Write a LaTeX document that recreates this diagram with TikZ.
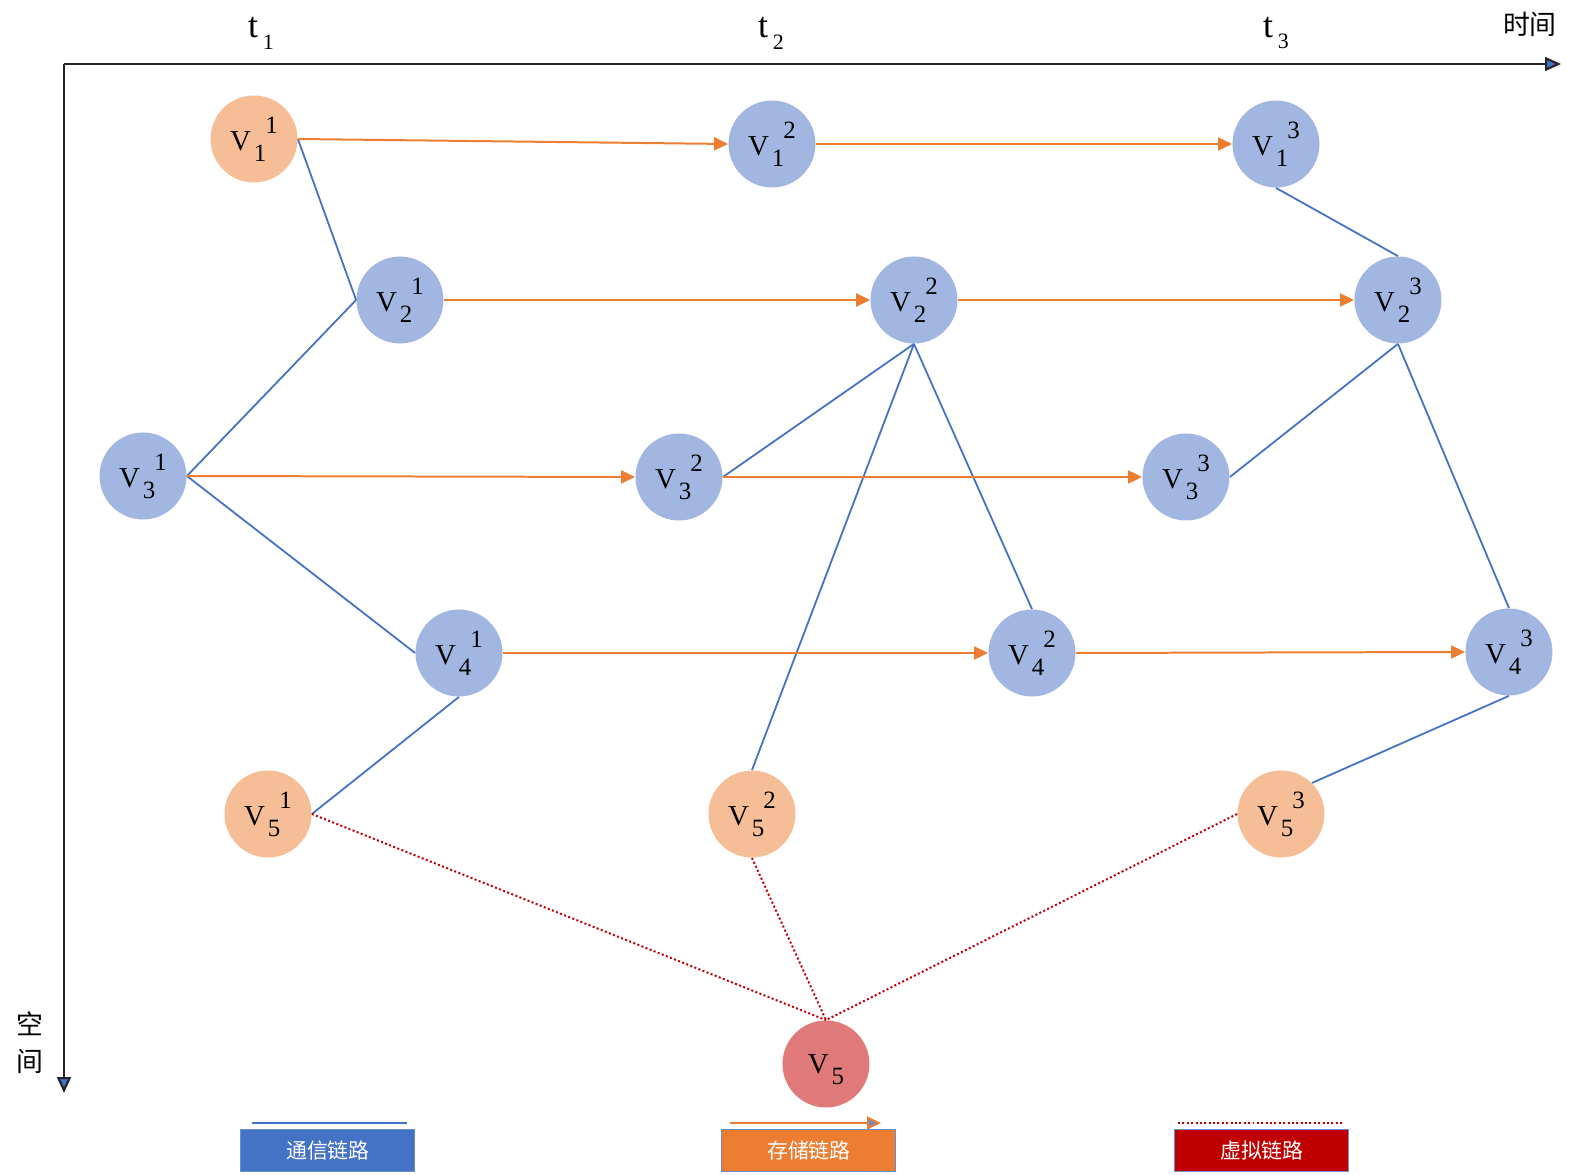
\documentclass[tikz,border=0pt]{standalone}
\usepackage{fontspec}
\setmainfont{Liberation Serif}
\newfontfamily\cjk{Noto Sans CJK SC}
\usetikzlibrary{arrows.meta}
\definecolor{nodeblue}{RGB}{161,183,225}
\definecolor{nodeorange}{RGB}{246,190,150}
\definecolor{nodered}{RGB}{224,122,122}
\definecolor{linkblue}{RGB}{68,114,196}
\definecolor{linkorange}{RGB}{237,125,49}
\definecolor{linkred}{RGB}{192,0,0}
\newcommand{\vlab}[2]{{\fontsize{14.5}{14.5}\selectfont V}\kern1.5pt\raisebox{-5.5pt}{\fontsize{12.5}{12.5}\selectfont #1}\kern-0.5pt\raisebox{8.5pt}{\fontsize{12.5}{12.5}\selectfont #2}}
\newcommand{\tlab}[1]{{\fontsize{18}{18}\selectfont t}\kern2.5pt\raisebox{-6pt}{\fontsize{11}{11}\selectfont #1}}
\tikzset{
  vnode/.style={circle, minimum size=43.5bp, inner sep=0pt, fill=nodeblue},
  onode/.style={vnode, fill=nodeorange},
  rnode/.style={vnode, fill=nodered},
  comm/.style={draw=linkblue, line width=0.9pt},
  store/.style={draw=linkorange, line width=1pt, -{Triangle[length=7pt,width=6.5pt,fill=linkorange]}},
  virt/.style={draw=linkred, line width=1pt, dash pattern=on 1pt off 1.2pt},
  axis/.style={draw=black!85, line width=1.1pt, -{Triangle[length=8pt,width=7pt,fill=linkblue]}},
  legbox/.style={minimum width=87bp, minimum height=21bp, inner sep=0pt, draw=linkblue!80, line width=0.5pt, text=white, font=\cjk\fontsize{10.5}{10.5}\selectfont},
  cjklab/.style={font=\cjk\fontsize{13.5}{18.75}\selectfont, inner sep=0pt, align=center},
}
\begin{document}
\begin{tikzpicture}[x=0.5bp,y=-0.5bp]
\useasboundingbox (0bp,0bp) rectangle (787.5bp,-587.5bp);
% axes
\coordinate (O) at (64,64);
\coordinate (Xend) at (1561,64);
\coordinate (Yend) at (64,1093);
\draw[axis] (O) -- (Xend);
\draw[axis] (O) -- (Yend);
\node[inner sep=0pt] (t1) at (261,33) {\tlab{1}};
\node[inner sep=0pt] (t2) at (771,33) {\tlab{2}};
\node[inner sep=0pt] (t3) at (1276,33) {\tlab{3}};
\node[cjklab] (time) at (1530,24) {时间};
\node[cjklab] (space) at (30,1043) {空\\间};
% nodes
\node[onode] (v11) at (254,139) {\vlab{1}{1}};
\node[vnode] (v12) at (772,144) {\vlab{1}{2}};
\node[vnode] (v13) at (1276,144) {\vlab{1}{3}};
\node[vnode] (v21) at (400,300) {\vlab{2}{1}};
\node[vnode] (v22) at (914,300) {\vlab{2}{2}};
\node[vnode] (v23) at (1398,300) {\vlab{2}{3}};
\node[vnode] (v31) at (143,476) {\vlab{3}{1}};
\node[vnode] (v32) at (679,477) {\vlab{3}{2}};
\node[vnode] (v33) at (1186,477) {\vlab{3}{3}};
\node[vnode] (v41) at (459,653) {\vlab{4}{1}};
\node[vnode] (v42) at (1032,653) {\vlab{4}{2}};
\node[vnode] (v43) at (1509,652) {\vlab{4}{3}};
\node[onode] (v51) at (268,814) {\vlab{5}{1}};
\node[onode] (v52) at (752,814) {\vlab{5}{2}};
\node[onode] (v53) at (1281,814) {\vlab{5}{3}};
\node[rnode] (v5) at (826,1064) {\raisebox{-3pt}[9.5pt][5.5pt]{{\fontsize{14.5}{14.5}\selectfont V}\kern1.5pt\raisebox{-5.5pt}{\fontsize{12.5}{12.5}\selectfont 5}}};
% communication links
\draw[comm] (v11.east) -- (v21.west);
\draw[comm] (v21.west) -- (v31.east);
\draw[comm] (v31.east) -- (v41.west);
\draw[comm] (v41.south) -- (v51.east);
\draw[comm] (v32.east) -- (v22.south);
\draw[comm] (v22.south) -- (v42.north);
\draw[comm] (v22.south) -- (v52.north);
\draw[comm] (v13.south) -- (v23.north);
\draw[comm] (v23.south) -- (v33.east);
\draw[comm] (v23.south) -- (v43.north);
\draw[comm] (v43.south) -- (v53.45);
% storage links
\draw[store] (v11.east) -- (v12.west);
\draw[store] (v12.east) -- (v13.west);
\draw[store] (v21.east) -- (v22.west);
\draw[store] (v22.east) -- (v23.west);
\draw[store] (v31.east) -- (v32.west);
\draw[store] (v32.east) -- (v33.west);
\draw[store] (v41.east) -- (v42.west);
\draw[store] (v42.east) -- (v43.west);
% virtual links
\draw[virt] (v51.east) -- (v5.north);
\draw[virt] (v52.south) -- (v5.north);
\draw[virt] (v53.west) -- (v5.north);
% legend
\coordinate (lb1) at (252,1123); \coordinate (lb2) at (407,1123);
\coordinate (lo1) at (730,1123); \coordinate (lo2) at (881,1123);
\coordinate (lr1) at (1178,1123); \coordinate (lr2) at (1344,1123);
\draw[comm, line width=1pt] (lb1) -- (lb2);
\draw[draw=linkorange, line width=1pt, -{Triangle[length=7pt,width=6.5pt,fill=linkblue!80]}] (lo1) -- (lo2);
\draw[virt] (lr1) -- (lr2);
\node[legbox, fill=linkblue] (legc) at (328,1151) {通信链路};
\node[legbox, fill=linkorange] (legs) at (809,1151) {存储链路};
\node[legbox, fill=linkred] (legv) at (1262,1151) {虚拟链路};
\end{tikzpicture}
\end{document}
